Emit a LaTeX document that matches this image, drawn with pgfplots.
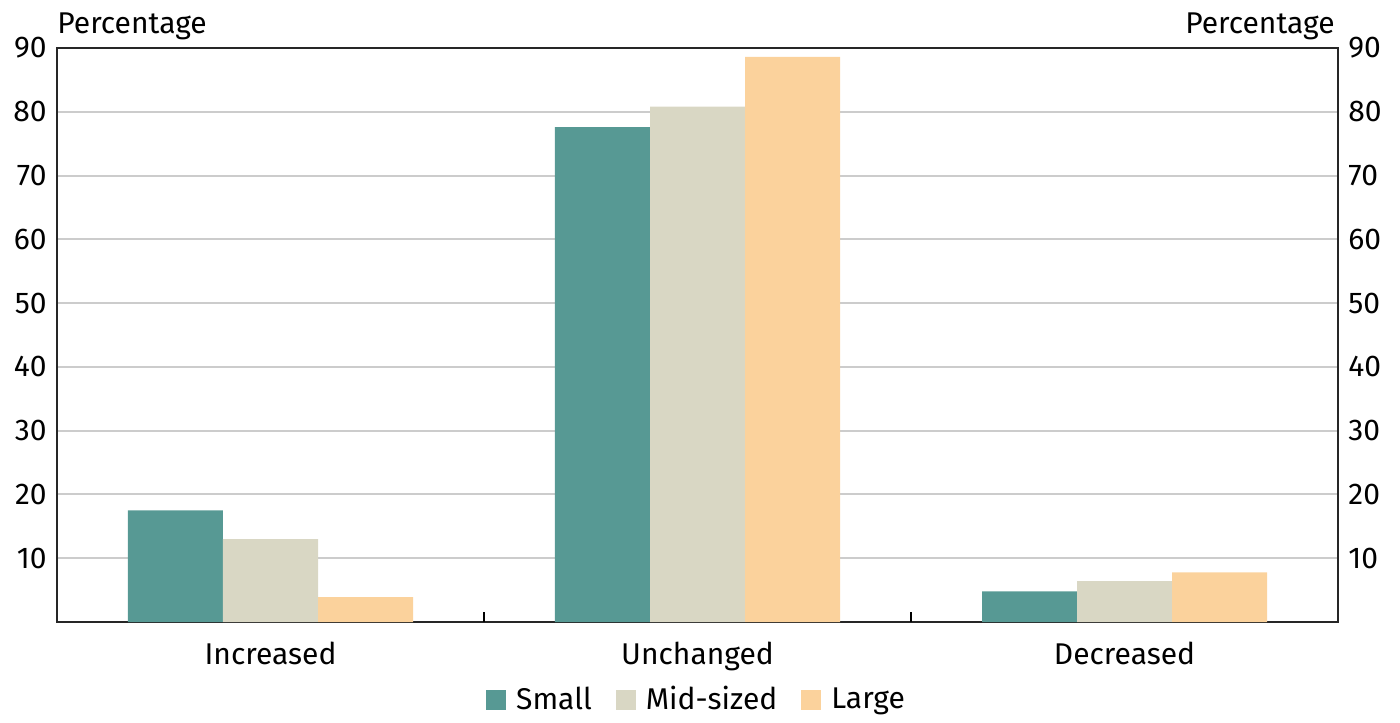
\documentclass[border=0pt]{standalone}
\usepackage{pgfplots}
\pgfplotsset{compat=1.18}
\usepackage{fontspec}
\setmainfont{Fira Sans}
\definecolor{csmall}{HTML}{579994}
\definecolor{cmid}{HTML}{D9D7C4}
\definecolor{clarge}{HTML}{FBD29C}
\begin{document}
\fontsize{15}{18}\selectfont
\begin{tikzpicture}
\path (-28.5pt,-49pt) rectangle (671.5pt,311pt);
\begin{axis}[
  scale only axis, width=640.5pt, height=287pt,
  clip=false,
  xmin=-0.5, xmax=2.5, ymin=0, ymax=90,
  xtick={0,1,2}, xticklabels={Increased,Unchanged,Decreased},
  xticklabel style={yshift=-5pt},
  ytick={10,20,...,90},
  major tick length=0pt,
  xtick pos=bottom, ytick pos=left,
  extra x ticks={0.5,1.5}, extra x tick labels={},
  extra x tick style={major tick length=5pt, tick style={draw=black, line width=0.8pt}},
  ymajorgrids, grid style={black!20, line width=1pt},
  axis line style={line width=1pt, black!85},
  tick label style={font=\fontsize{15}{18}\selectfont},
  /pgf/number format/assume math mode=true,
  legend style={at={(0.5,-0.136)}, anchor=center, draw=none, fill=none,
    legend columns=3, font=\fontsize{15}{18}\selectfont,
    /tikz/every odd column/.append style={column sep=3pt},
    /tikz/every even column/.append style={column sep=10pt}},
  legend image code/.code={\fill[#1] (0pt,-5pt) rectangle (10pt,5pt);},
]
\addplot[ybar, bar width=0.2225, bar shift=-0.2225, fill=csmall, draw=none] coordinates {(0,17.5) (1,77.6) (2,4.8)};
\addlegendentry{Small}
\addplot[ybar, bar width=0.2225, bar shift=0, fill=cmid, draw=none] coordinates {(0,13.0) (1,80.8) (2,6.4)};
\addlegendentry{Mid-sized}
\addplot[ybar, bar width=0.2225, bar shift=0.2225, fill=clarge, draw=none] coordinates {(0,3.9) (1,88.6) (2,7.8)};
\addlegendentry{Large}
\node[anchor=south west, inner sep=0pt, yshift=4pt] at (rel axis cs:0,1) {Percentage};
\node[anchor=south east, inner sep=0pt, yshift=4pt, xshift=-1.5pt] at (rel axis cs:1,1) {Percentage};
\end{axis}
\begin{axis}[
  scale only axis, width=640.5pt, height=287pt,
  xmin=-0.5, xmax=2.5, ymin=0, ymax=90,
  hide x axis, axis y line*=right, y axis line style={draw=none},
  ytick={10,20,...,90}, major tick length=0pt,
  tick label style={font=\fontsize{15}{18}\selectfont},
  /pgf/number format/assume math mode=true,
]
\addplot[draw=none] coordinates {(0,0)};
\end{axis}
\end{tikzpicture}
\end{document}
